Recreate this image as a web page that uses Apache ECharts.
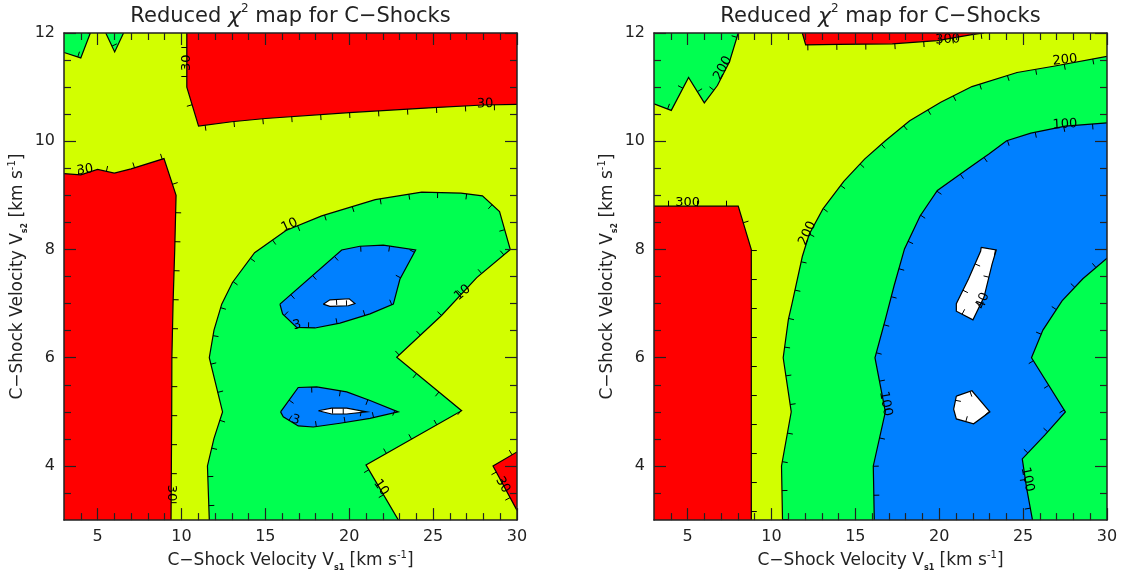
<!DOCTYPE html>
<html><head><meta charset="utf-8">
<script src="https://cdn.jsdelivr.net/npm/echarts@6/dist/echarts.min.js"></script>
<style>html,body{margin:0;padding:0;background:#fff}#c{width:1123px;height:577px}</style>
</head><body><div id="c"></div>
<script>
// ---------- axes / ticks ----------
const X_MIN = 3, X_MAX = 30, Y_MIN = 3, Y_MAX = 12;
const xMajor = [5, 10, 15, 20, 25, 30];
const xMinor = [4, 6, 7, 8, 9, 11, 12, 13, 14, 16, 17, 18, 19, 21, 22, 23, 24, 26, 27, 28, 29];
const yMajor = [4, 6, 8, 10, 12];
const yMinor = [3.5, 4.5, 5, 5.5, 6.5, 7, 7.5, 8.5, 9, 9.5, 10.5, 11, 11.5];

// ---------- left panel contours (x = Vs1, y = Vs2) ----------
const A_c30_top = [[10.32,12],[10.32,11.0],[11.02,10.28],[13,10.36],[15,10.42],[20,10.53],[25,10.62],[28,10.67],[30,10.68]];
const A_c30_left = [[3,9.40],[4.0,9.38],[5.0,9.48],[6.0,9.41],[7.0,9.49],[8.96,9.68],[9.68,9.0],[9.6,8.0],[9.5,7.0],[9.43,6.0],[9.42,5.0],[9.4,4.0],[9.38,3.0]];
const A_c30_br = [[30,3.18],[28.57,4.0],[30,4.26]];
const A_c10_tl1 = [[3,11.64],[4.0,11.54],[4.57,12]];
const A_c10_tl2 = [[5.49,12],[6.02,11.65],[6.55,12]];
const A_c10_main = [[11.66,3],[11.55,4.0],[11.94,4.51],[12.45,5.0],[11.66,6.0],[11.94,6.51],[12.40,6.99],[13.04,7.39],[14.36,7.94],[16.23,8.35],[18.36,8.62],[21.55,8.92],[24.32,9.06],[26.66,9.04],[27.94,8.99],[28.96,8.70],[29.6,8.0],[27.6,7.48],[25.5,6.78],[22.83,6.01],[26.7,5.02],[21.0,4.02],[22.93,3.0]];
const A_c3_up = [[15.87,6.99],[19.55,7.99],[20.64,8.06],[22.03,8.08],[23.96,7.99],[23.02,7.45],[22.63,6.99],[21.24,6.81],[19.45,6.64],[17.96,6.55],[16.87,6.56],[16.03,6.81]];
const A_c3_low = [[15.91,5.0],[16.96,5.45],[18.06,5.46],[19.85,5.37],[21.24,5.21],[22.92,5.0],[21.24,4.88],[19.45,4.79],[17.86,4.72],[16.96,4.74],[16.07,4.91]];
const A_c1_up = [[18.45,6.99],[18.85,7.07],[20.0,7.09],[20.34,7.0],[19.95,6.96],[18.85,6.95]];
const A_c1_low = [[18.16,5.02],[18.95,5.07],[19.85,5.07],[21.04,5.0],[19.85,4.96],[18.95,4.96]];
const A_labels = [[10.3,11.45,'30',90],[28.1,10.69,'30',2],[4.25,9.47,'30',8],[16.45,8.45,'10',25],[26.75,7.2,'10',40],[16.9,6.6,'3',15],[16.8,4.85,'3',-15],[9.4,3.5,'30',-90],[21.9,3.6,'10',-55],[29.15,3.65,'30',-60]];

// ---------- right panel contours ----------
const B_c300_top = [[11.84,12],[12.04,11.78],[14,11.79],[17.2,11.8],[19.89,11.86],[21.95,11.97],[22.67,12]];
const B_c300_left = [[3,8.80],[8.02,8.80],[8.8,8.0],[8.8,3.0]];
const B_c200_tl = [[3,10.69],[4.03,10.57],[5.06,11.18],[6.0,10.71],[6.78,11.03],[7.5,11.47],[8.02,12]];
const B_c200_main = [[30,11.57],[26.9,11.39],[24.64,11.27],[21.95,11.01],[20.09,10.72],[18.24,10.38],[16.79,10.01],[15.55,9.67],[14.31,9.26],[13.07,8.75],[12.25,8.28],[11.84,7.87],[11.22,6.99],[11.01,6.71],[10.7,6.0],[11.18,5.0],[10.6,4.0],[10.66,3.0]];
const B_c100_main = [[30,10.34],[27.52,10.28],[25.46,10.15],[24.02,10.01],[22.98,9.77],[21.75,9.5],[19.89,9.09],[18.86,8.62],[17.93,8.01],[17.31,7.33],[16.79,6.71],[16.17,6.0],[16.79,5.0],[16.07,4.0],[16.13,3.0]];
const B_c100_right = [[30,7.84],[28.56,7.46],[27.32,7.05],[26.18,6.51],[25.5,6.0],[27.52,5.0],[26.29,4.57],[24.95,4.13],[25.21,3.59],[25.56,3.0]];
const B_c40_up = [[22.5,8.04],[23.4,7.99],[23.15,7.73],[22.67,7.12],[22.01,6.7],[21.02,6.86],[21.02,7.0],[21.75,7.46],[22.47,7.97]];
const B_c40_low = [[21.02,5.29],[21.95,5.39],[23.02,5.0],[22.05,4.78],[21.02,4.87],[20.86,5.05]];
const B_labels = [[20.5,11.88,'300',3],[5.0,8.86,'300',0],[7.1,11.35,'200',62],[27.5,11.5,'200',6],[12.15,8.3,'200',65],[27.5,10.31,'100',3],[16.8,5.15,'100',-80],[25.25,3.75,'100',-78],[22.6,7.05,'40',70]];

// ---------- colours ----------
const RED = '#ff0000', YELLOW = '#d2ff00', GREEN = '#00ff50', BLUE = '#0080ff', WHITE = '#ffffff';
const INK = '#222';

function fillSeries(gi, poly, closure, color, z) {
  const pts = poly.concat(closure);
  return {
    type: 'custom', coordinateSystem: 'cartesian2d', xAxisIndex: gi * 4, yAxisIndex: gi * 4,
    silent: true, animation: false, clip: true, z: z, data: [pts[0]],
    renderItem: (p, api) => ({ type: 'polygon', shape: { points: pts.map(q => api.coord(q)) }, style: { fill: color } })
  };
}

function contourSeries(gi, line, side, closed) {
  return {
    type: 'custom', coordinateSystem: 'cartesian2d', xAxisIndex: gi * 4, yAxisIndex: gi * 4,
    silent: true, animation: false, clip: true, z: 8, data: [line[0]],
    renderItem: (p, api) => {
      const pts = line.map(q => api.coord(q));
      if (closed) pts.push(pts[0]);
      const children = [{ type: 'polyline', shape: { points: pts }, style: { stroke: '#000', lineWidth: 1.2, fill: null } }];
      const segs = []; let total = 0;
      for (let i = 0; i < pts.length - 1; i++) {
        const dx = pts[i + 1][0] - pts[i][0], dy = pts[i + 1][1] - pts[i][1];
        const len = Math.hypot(dx, dy);
        segs.push({ a: pts[i], dx, dy, len, s0: total }); total += len;
      }
      const SP = 29, TL = 5.5;
      for (let s = SP / 2; s < total; s += SP) {
        const sg = segs.find(g => s >= g.s0 && s <= g.s0 + g.len);
        if (!sg || sg.len === 0) continue;
        const t = (s - sg.s0) / sg.len;
        const x = sg.a[0] + sg.dx * t, y = sg.a[1] + sg.dy * t;
        const nx = -sg.dy / sg.len * side, ny = sg.dx / sg.len * side;
        children.push({ type: 'line', shape: { x1: x, y1: y, x2: x + nx * TL, y2: y + ny * TL }, style: { stroke: '#000', lineWidth: 1 } });
      }
      return { type: 'group', children };
    }
  };
}

function labelSeries(gi, labels) {
  return {
    type: 'custom', coordinateSystem: 'cartesian2d', xAxisIndex: gi * 4, yAxisIndex: gi * 4,
    silent: true, animation: false, clip: false, z: 9, data: labels.map(l => [l[0], l[1]]),
    renderItem: (p, api) => {
      const L = labels[p.dataIndex];
      const c = api.coord([L[0], L[1]]);
      return { type: 'text', x: c[0], y: c[1], rotation: L[3] * Math.PI / 180,
        style: { text: L[2], fill: '#000', font: '13px "DejaVu Sans"', align: 'center', verticalAlign: 'middle' } };
    }
  };
}

const rich = {
  sub: { fontSize: 8, lineHeight: 14, verticalAlign: 'bottom', fontFamily: 'DejaVu Sans', color: INK, fontWeight: 'bold' },
  sup: { fontSize: 10, lineHeight: 14, verticalAlign: 'top', fontFamily: 'DejaVu Sans', color: INK }
};
const nameStyle = { fontSize: 17, lineHeight: 22, fontFamily: 'DejaVu Sans', color: INK, rich: rich };
const X_NAME = 'C\u2212Shock Velocity V{sub|s1} [km s{sup|-1}]';
const Y_NAME = 'C\u2212Shock Velocity V{sub|s2} [km s{sup|-1}]';

function xAxes(gi) {
  const base = { type: 'value', gridIndex: gi, min: X_MIN, max: X_MAX, z: 10, splitLine: { show: false } };
  const line = { show: true, lineStyle: { color: INK, width: 1.5 } };
  const tick = (vals, len) => ({ show: true, inside: true, length: len, customValues: vals, lineStyle: { color: INK, width: 1.2 } });
  return [
    Object.assign({}, base, { position: 'bottom', axisLine: line, axisTick: tick(xMajor, 12),
      axisLabel: { show: true, customValues: xMajor, margin: 9, fontSize: 16, fontFamily: 'DejaVu Sans', color: INK },
      name: X_NAME, nameLocation: 'middle', nameGap: 28, nameTextStyle: nameStyle }),
    Object.assign({}, base, { position: 'bottom', axisLine: { show: false }, axisTick: tick(xMinor, 7), axisLabel: { show: false } }),
    Object.assign({}, base, { position: 'top', axisLine: line, axisTick: tick(xMajor, 12), axisLabel: { show: false } }),
    Object.assign({}, base, { position: 'top', axisLine: { show: false }, axisTick: tick(xMinor, 7), axisLabel: { show: false } })
  ];
}
function yAxes(gi) {
  const base = { type: 'value', gridIndex: gi, min: Y_MIN, max: Y_MAX, z: 10, splitLine: { show: false } };
  const line = { show: true, lineStyle: { color: INK, width: 1.5 } };
  const tick = (vals, len) => ({ show: true, inside: true, length: len, customValues: vals, lineStyle: { color: INK, width: 1.2 } });
  return [
    Object.assign({}, base, { position: 'left', axisLine: line, axisTick: tick(yMajor, 12),
      axisLabel: { show: true, customValues: yMajor, margin: 9, fontSize: 16, fontFamily: 'DejaVu Sans', color: INK },
      name: Y_NAME, nameLocation: 'middle', nameGap: 35, nameTextStyle: nameStyle }),
    Object.assign({}, base, { position: 'left', axisLine: { show: false }, axisTick: tick(yMinor, 7), axisLabel: { show: false } }),
    Object.assign({}, base, { position: 'right', axisLine: line, axisTick: tick(yMajor, 12), axisLabel: { show: false } }),
    Object.assign({}, base, { position: 'right', axisLine: { show: false }, axisTick: tick(yMinor, 7), axisLabel: { show: false } })
  ];
}

const series = [
  // left panel
  fillSeries(0, A_c30_top, [[30, 12]], RED, 2),
  fillSeries(0, A_c30_left, [[3, 3]], RED, 2),
  fillSeries(0, A_c30_br, [], RED, 2),
  fillSeries(0, A_c10_tl1, [[3, 12]], GREEN, 3),
  fillSeries(0, A_c10_tl2, [], GREEN, 3),
  fillSeries(0, A_c10_main, [], GREEN, 3),
  fillSeries(0, A_c3_up, [], BLUE, 4),
  fillSeries(0, A_c3_low, [], BLUE, 4),
  fillSeries(0, A_c1_up, [], WHITE, 5),
  fillSeries(0, A_c1_low, [], WHITE, 5),
  contourSeries(0, A_c30_top, 1, false),
  contourSeries(0, A_c30_left, -1, false),
  contourSeries(0, A_c30_br, -1, false),
  contourSeries(0, A_c10_tl1, -1, false),
  contourSeries(0, A_c10_tl2, -1, false),
  contourSeries(0, A_c10_main, 1, false),
  contourSeries(0, A_c3_up, 1, true),
  contourSeries(0, A_c3_low, 1, true),
  contourSeries(0, A_c1_up, 1, true),
  contourSeries(0, A_c1_low, 1, true),
  labelSeries(0, A_labels),
  // right panel
  fillSeries(1, B_c300_top, [], RED, 2),
  fillSeries(1, B_c300_left, [[3, 3]], RED, 2),
  fillSeries(1, B_c200_tl, [[3, 12]], GREEN, 3),
  fillSeries(1, B_c200_main, [[30, 3]], GREEN, 3),
  fillSeries(1, B_c100_main, [[30, 3]], BLUE, 4),
  fillSeries(1, B_c100_right, [[30, 3]], GREEN, 5),
  fillSeries(1, B_c40_up, [], WHITE, 6),
  fillSeries(1, B_c40_low, [], WHITE, 6),
  contourSeries(1, B_c300_top, 1, false),
  contourSeries(1, B_c300_left, -1, false),
  contourSeries(1, B_c200_tl, -1, false),
  contourSeries(1, B_c200_main, -1, false),
  contourSeries(1, B_c100_main, -1, false),
  contourSeries(1, B_c100_right, 1, false),
  contourSeries(1, B_c40_up, 1, true),
  contourSeries(1, B_c40_low, 1, true),
  labelSeries(1, B_labels)
];

const TITLE = 'Reduced {chi|\u03c7}{sup|2} map for C\u2212Shocks';
const titleRich = {
  chi: { fontSize: 22, lineHeight: 28, fontStyle: 'italic', fontFamily: 'DejaVu Sans', fill: INK },
  sup: { fontSize: 12, lineHeight: 16, verticalAlign: 'top', fontFamily: 'DejaVu Sans', fill: INK }
};

const chart = echarts.init(document.getElementById('c'), null, { renderer: 'canvas' });
chart.setOption({
  animation: false,
  backgroundColor: '#fff',
  grid: [
    { left: 64, top: 33, width: 453, height: 489, show: true, backgroundColor: YELLOW, borderWidth: 0 },
    { left: 654, top: 33, width: 453, height: 489, show: true, backgroundColor: YELLOW, borderWidth: 0 }
  ],
  xAxis: xAxes(0).concat(xAxes(1)),
  yAxis: yAxes(0).concat(yAxes(1)),
  graphic: [
    { type: 'text', x: 290.5, y: 17, z: 20, style: { text: TITLE, align: 'center', verticalAlign: 'middle', font: '21px "DejaVu Sans"', fill: INK, lineHeight: 28, rich: titleRich } },
    { type: 'text', x: 880.5, y: 17, z: 20, style: { text: TITLE, align: 'center', verticalAlign: 'middle', font: '21px "DejaVu Sans"', fill: INK, lineHeight: 28, rich: titleRich } }
  ],
  series: series
});
</script>
</body></html>
